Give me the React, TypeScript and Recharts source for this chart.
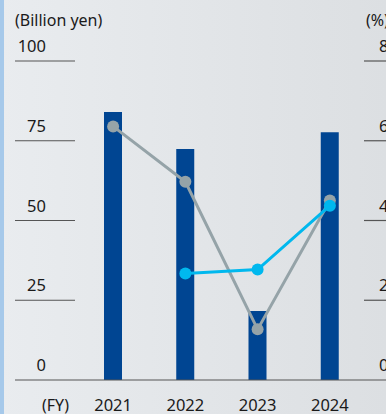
import { ComposedChart, Bar, Line, XAxis, YAxis } from "recharts";

const years = ["2021", "2022", "2023", "2024"];
const amounts = [84, 72.4, 21.6, 77.7]; // billion yen
const grayRatio = [6.36, 4.97, 1.27, 4.5]; // %
const cyanRatio = [null, 2.67, 2.77, 4.37]; // %
const leftTicks = [0, 25, 50, 75, 100];
const rightTicks = [0, 2, 4, 6, 8];

const data = years.map((y, i) => ({
  year: y,
  amount: amounts[i],
  gray: grayRatio[i],
  cyan: cyanRatio[i],
}));

const FONT = "'Noto Sans', sans-serif";
const TEXT = "#1a1a1a";
const RULE = "#555";

const LeftTick = (props: any) => {
  const { y, payload } = props;
  const isZero = payload.value === 0;
  return (
    <g>
      <line x1={15} x2={isZero ? 386 : 75} y1={y} y2={y} stroke={RULE} strokeWidth={1.2} />
      <text x={46} y={y - 9} textAnchor="end" fontSize={16.5} fontFamily={FONT} fill={TEXT}>
        {payload.value}
      </text>
    </g>
  );
};

const RightTick = (props: any) => {
  const { y, payload } = props;
  return (
    <g>
      {payload.value !== 0 && (
        <line x1={364} x2={386} y1={y} y2={y} stroke={RULE} strokeWidth={1.2} />
      )}
      <text x={379} y={y - 9} textAnchor="start" fontSize={16.5} fontFamily={FONT} fill={TEXT}>
        {payload.value}
      </text>
    </g>
  );
};

const YearTick = (props: any) => {
  const { x, payload } = props;
  return (
    <text x={x} y={411} textAnchor="middle" fontSize={16.5} fontFamily={FONT} fill={TEXT}>
      {payload.value}
    </text>
  );
};

export default function App() {
  return (
    <div
      style={{
        position: "absolute",
        left: 0,
        top: 0,
        width: 386,
        height: 414,
        overflow: "hidden",
        background: "linear-gradient(to right, #e9ecef, #dcdfe2)",
      }}
    >
      <div style={{ position: "absolute", left: 0, top: 0, width: 4, height: 414, background: "#a6c9ea" }} />
      <ComposedChart
        width={386}
        height={414}
        data={data}
        margin={{ top: 61, right: 0, bottom: 0, left: 0 }}
        barCategoryGap={0}
        style={{ position: "absolute", left: 0, top: 0 }}
      >
        <text x={15} y={26} fontSize={16} fontFamily={FONT} fill={TEXT}>
          (Billion yen)
        </text>
        <text x={366} y={26} fontSize={16} fontFamily={FONT} fill={TEXT}>
          (%)
        </text>
        <text x={42} y={411} fontSize={16} fontFamily={FONT} fill={TEXT}>
          (FY)
        </text>
        <XAxis dataKey="year" height={34} axisLine={false} tickLine={false} tick={<YearTick />} interval={0} />
        <YAxis
          yAxisId="left"
          orientation="left"
          width={77}
          domain={[0, 100]}
          ticks={leftTicks}
          axisLine={false}
          tickLine={false}
          tick={<LeftTick />}
        />
        <YAxis
          yAxisId="right"
          orientation="right"
          width={20}
          domain={[0, 8]}
          ticks={rightTicks}
          axisLine={false}
          tickLine={false}
          tick={<RightTick />}
        />
        <Bar yAxisId="left" dataKey="amount" fill="#004592" barSize={18} isAnimationActive={false} />
        <Line
          yAxisId="right"
          dataKey="gray"
          stroke="#95a3a8"
          strokeWidth={3}
          dot={{ r: 6, fill: "#95a3a8", stroke: "none" }}
          isAnimationActive={false}
        />
        <Line
          yAxisId="right"
          dataKey="cyan"
          stroke="#00b8ee"
          strokeWidth={3}
          dot={{ r: 6, fill: "#00b8ee", stroke: "none" }}
          isAnimationActive={false}
        />
      </ComposedChart>
    </div>
  );
}
